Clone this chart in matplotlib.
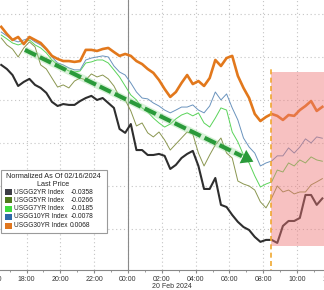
import matplotlib
matplotlib.use('Agg')
import matplotlib.pyplot as plt
import matplotlib.dates as mdates
from matplotlib.patches import Rectangle
import pandas as pd

plt.rcParams['font.family'] = ['Liberation Sans', 'DejaVu Sans']

# 20 minute samples, 19 Feb 16:30 -> 20 Feb 11:30
times = pd.date_range('2024-02-19 16:30', '2024-02-20 11:30', freq='20min')

usgg2 = [0.0263, 0.0244, 0.0216, 0.0165, 0.0184, 0.0198, 0.0170, 0.0156, 0.0133, 0.0091,
         0.0072, 0.0081, 0.0077, 0.0077, 0.0095, 0.0109, 0.0119, 0.0100, 0.0109, 0.0086,
         0.0063, -0.0035, -0.0053, -0.0012, -0.0133, -0.0133, -0.0156, -0.0156, -0.0151, -0.0160,
         -0.0221, -0.0202, -0.0170, -0.0151, -0.0137, -0.0207, -0.0314, -0.0314, -0.0263, -0.0388,
         -0.0398, -0.0435, -0.0467, -0.0491, -0.0505, -0.0537, -0.0560, -0.0551, -0.0551, -0.0565,
         -0.0486, -0.0463, -0.0463, -0.0449, -0.0342, -0.0342, -0.0388, -0.0358]
usgg5 = [0.0388, 0.0356, 0.0337, 0.0300, 0.0342, 0.0370, 0.0347, 0.0263, 0.0244, 0.0202,
         0.0160, 0.0170, 0.0156, 0.0188, 0.0202, 0.0193, 0.0221, 0.0207, 0.0216, 0.0198,
         0.0165, 0.0114, 0.0100, 0.0049, -0.0021, -0.0007, -0.0053, -0.0072, -0.0049, -0.0086,
         -0.0133, -0.0105, -0.0077, -0.0049, -0.0058, -0.0147, -0.0207, -0.0156, -0.0109, -0.0077,
         -0.0147, -0.0170, -0.0277, -0.0291, -0.0300, -0.0319, -0.0374, -0.0402, -0.0356, -0.0300,
         -0.0328, -0.0319, -0.0337, -0.0328, -0.0328, -0.0295, -0.0281, -0.0266]
usgg7 = [0.0402, 0.0384, 0.0365, 0.0356, 0.0365, 0.0379, 0.0356, 0.0342, 0.0319, 0.0286,
         0.0263, 0.0249, 0.0235, 0.0230, 0.0235, 0.0272, 0.0277, 0.0286, 0.0286, 0.0272,
         0.0240, 0.0207, 0.0165, 0.0123, 0.0100, 0.0063, 0.0044, 0.0016, -0.0007, -0.0026,
         -0.0012, 0.0012, 0.0030, 0.0040, 0.0026, 0.0040, -0.0007, -0.0026, 0.0016, 0.0063,
         0.0053, -0.0049, -0.0095, -0.0156, -0.0193, -0.0253, -0.0305, -0.0291, -0.0281, -0.0226,
         -0.0235, -0.0193, -0.0207, -0.0179, -0.0193, -0.0165, -0.0179, -0.0185]
usgg10 = [0.0416, 0.0398, 0.0379, 0.0370, 0.0379, 0.0388, 0.0370, 0.0356, 0.0333, 0.0300,
          0.0272, 0.0263, 0.0249, 0.0240, 0.0240, 0.0286, 0.0295, 0.0300, 0.0305, 0.0300,
          0.0258, 0.0230, 0.0216, 0.0179, 0.0137, 0.0109, 0.0105, 0.0086, 0.0072, 0.0053,
          0.0040, 0.0053, 0.0067, 0.0067, 0.0077, 0.0053, 0.0040, 0.0072, 0.0137, 0.0100,
          0.0128, 0.0063, 0.0007, -0.0077, -0.0119, -0.0147, -0.0207, -0.0193, -0.0184, -0.0160,
          -0.0160, -0.0123, -0.0147, -0.0119, -0.0081, -0.0100, -0.0072, -0.0078]
usgg30 = [0.0440, 0.0407, 0.0379, 0.0393, 0.0360, 0.0393, 0.0379, 0.0365, 0.0337, 0.0305,
          0.0291, 0.0281, 0.0281, 0.0277, 0.0281, 0.0333, 0.0333, 0.0328, 0.0337, 0.0342,
          0.0323, 0.0305, 0.0314, 0.0305, 0.0281, 0.0267, 0.0244, 0.0226, 0.0193, 0.0151,
          0.0114, 0.0137, 0.0179, 0.0216, 0.0174, 0.0188, 0.0165, 0.0202, 0.0286, 0.0258,
          0.0295, 0.0305, 0.0212, 0.0156, 0.0109, 0.0035, 0.0002, 0.0021, 0.0035, 0.0026,
          0.0007, 0.0030, 0.0026, 0.0053, 0.0072, 0.0095, 0.0049, 0.0068]

names = ['USGG2YR Index', 'USGG5YR Index', 'USGG7YR Index', 'USGG10YR Index', 'USGG30YR Index']
last_price = ['-0.0358', '-0.0266', '-0.0185', '-0.0078', '0.0068']
series = [usgg2, usgg5, usgg7, usgg10, usgg30]
box_colors = ['#3d3d45', '#4f7a1c', '#3fdc3f', '#2e6aa8', '#e0761e']
line_colors = ['#2e2e2e', '#8a9650', '#5ad45a', '#6a93bd', '#e2781c']
line_widths = [1.5, 0.7, 0.7, 0.7, 1.9]

# annotations
arrow_start = (pd.Timestamp('2024-02-19 17:54'), 0.0333)
arrow_end = (pd.Timestamp('2024-02-20 07:34'), -0.0193)
event_time = pd.Timestamp('2024-02-20 08:28')
box_top, box_bottom = 0.0230, -0.0579
event_top = 0.0249

fig = plt.figure(figsize=(3.24, 2.9), dpi=100)
ax = fig.add_axes([-13 / 324, 20 / 290, 350 / 324, 270 / 290])

for s, c, w in zip(series, line_colors, line_widths):
    ax.plot(times, s, color=c, lw=w, zorder=3)

# dashed trend arrow
x0, y0 = mdates.date2num(arrow_start[0]), arrow_start[1]
x1, y1 = mdates.date2num(arrow_end[0]), arrow_end[1]
xb, yb = x1 - 0.06 * (x1 - x0), y1 - 0.06 * (y1 - y0)
ax.plot([x0, xb], [y0, yb], color='#8fd88f', lw=5, alpha=0.35, zorder=4, solid_capstyle='butt')
ax.plot([x0, xb], [y0, yb], color='#2a9a3a', lw=3, dashes=(3, 1), zorder=5)
ax.annotate('', xy=(x1, y1), xytext=(xb, yb),
            arrowprops=dict(arrowstyle='-|>,head_length=0.7,head_width=0.45', color='#2a9a3a',
                            lw=0, mutation_scale=12), zorder=5)

# shaded region after the release
t_ev = mdates.date2num(event_time)
ax.add_patch(Rectangle((t_ev, box_bottom), 1.0, box_top - box_bottom,
                       facecolor='#ee7777', alpha=0.45, lw=0, zorder=6))
ax.plot([t_ev, t_ev], [-0.08, event_top], color='#f0a830', lw=1.2, dashes=(3, 2), zorder=7)

ax.axvline(mdates.date2num(pd.Timestamp('2024-02-20 00:00')), color='#8a8a8a', lw=0.8, zorder=2)

ax.set_xlim(pd.Timestamp('2024-02-19 15:39:25'), pd.Timestamp('2024-02-20 12:22'))
ax.set_ylim(-0.0691, 0.0565)
ax.set_yticks([-0.05, -0.03, -0.01, 0.01, 0.03, 0.05])
ax.xaxis.set_major_locator(mdates.HourLocator(byhour=range(0, 24, 2)))
ax.xaxis.set_major_formatter(mdates.DateFormatter('%H:%M'))
ax.xaxis.set_minor_locator(mdates.HourLocator())
ax.grid(True, color='#c4c4c4', lw=0.8, linestyle=(0, (1, 2.5)), zorder=1)
ax.tick_params(axis='y', length=0, labelleft=False)
ax.tick_params(axis='x', which='major', length=2.5, pad=1.5, labelsize=5,
               color='#888888', labelcolor='#333333')
ax.tick_params(axis='x', which='minor', length=1.5, color='#888888')
for side in ['left', 'top', 'right']:
    ax.spines[side].set_visible(False)
ax.spines['bottom'].set_color('#888888')
ax.spines['bottom'].set_linewidth(0.8)

fig.text(172 / 324, 1 - 287 / 290, '20 Feb 2024', ha='center', va='center',
         fontsize=5, color='#333333')

# legend box (pixel placement)
def fx(px):
    return px / 324

def fy(py):
    return 1 - py / 290

fig.add_artist(Rectangle((fx(1), fy(233)), fx(107) - fx(1), fy(170) - fy(233),
                         transform=fig.transFigure, facecolor='white', edgecolor='#9a9a9a',
                         lw=0.8, zorder=10))
fig.text(fx(53), fy(177), 'Normalized As Of 02/16/2024', ha='center', va='center',
         fontsize=5.2, color='#222222', zorder=11)
fig.text(fx(53), fy(184.5), 'Last Price', ha='center', va='center',
         fontsize=5.2, color='#222222', zorder=11)
row_y = [192, 200, 208.5, 217, 225.5]
for name, val, c, yy in zip(names, last_price, box_colors, row_y):
    fig.add_artist(Rectangle((fx(5), fy(yy + 3)), fx(7), fy(0) - fy(6),
                             transform=fig.transFigure, facecolor=c, lw=0, zorder=11))
    fig.text(fx(14), fy(yy), name, ha='left', va='center', fontsize=4.7, color='#222222', zorder=11)
    fig.text(fx(69.5 if not val.startswith('-') else 70.5), fy(yy), val, ha='left', va='center',
             fontsize=4.9, color='#222222', zorder=11)

fig.savefig('out.png', dpi=100)
